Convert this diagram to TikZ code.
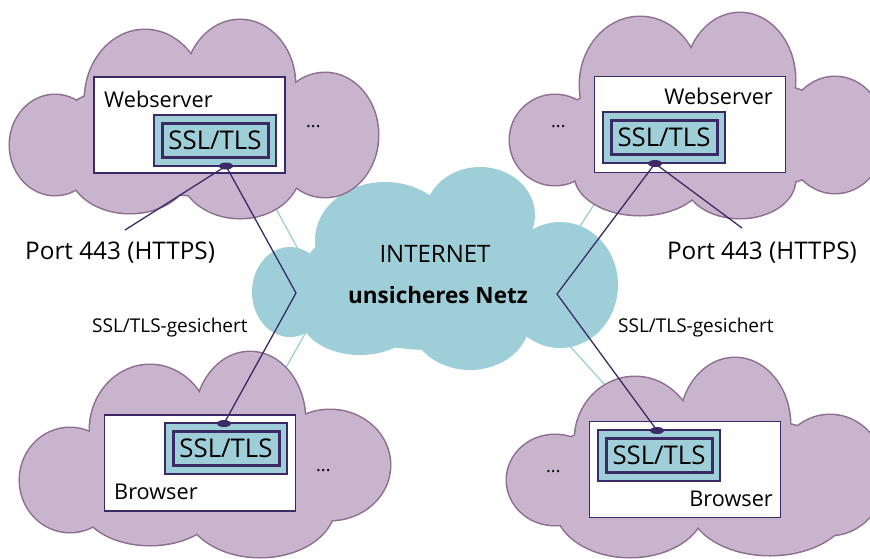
\documentclass[tikz,border=0pt]{standalone}
\usepackage{fontspec}
\setmainfont{Open Sans}
\usetikzlibrary{shapes.geometric}
\definecolor{cloudfill}{HTML}{C9B4CD}
\definecolor{cloudedge}{HTML}{8C6E8E}
\definecolor{netfill}{HTML}{9ECFD8}
\definecolor{darklink}{HTML}{3B2A66}
\newcommand\drawmycloud[2]{%
  \foreach \cx/\cy/\rx/\ry in {#1}{\draw[draw=cloudedge,line width=3pt] (\cx,\cy) ellipse [x radius=\rx pt, y radius=\ry pt];}%
  \foreach \cx/\cy/\rx/\ry in {#1}{\fill[#2] (\cx,\cy) ellipse [x radius=\rx pt, y radius=\ry pt];}%
}
\newcommand\fillmycloud[2]{%
  \foreach \cx/\cy/\rx/\ry in {#1}{\fill[#2] (\cx,\cy) ellipse [x radius=\rx pt, y radius=\ry pt];}%
}
\tikzset{
  wbox/.style={draw=darklink, line width=1.4pt, fill=white, minimum width=191pt, minimum height=96pt, inner sep=0pt},
  sslout/.style={draw=darklink, line width=2.4pt, fill=netfill, minimum width=122pt, minimum height=51pt, inner sep=0pt},
  sslin/.style={draw=darklink, line width=3pt, fill=netfill, minimum width=106pt, minimum height=34pt, inner sep=0pt, font=\fontsize{25.8}{30}\selectfont},
  dotn/.style={ellipse, fill=darklink, minimum width=14pt, minimum height=7pt, inner sep=0pt},
  boxlbl/.style={inner sep=0pt, font=\fontsize{21.7}{26}\selectfont},
  portlbl/.style={inner sep=0pt, font=\fontsize{24.3}{28}\selectfont},
  seclbl/.style={inner sep=0pt, font=\fontsize{19}{23}\selectfont},
  dotslbl/.style={inner sep=0pt, font=\fontsize{18}{22}\selectfont},
  link/.style={draw=darklink, line width=1.3pt},
  netlink/.style={draw=netfill, line width=1.3pt},
}
\begin{document}
\begin{tikzpicture}[x=1pt,y=-1pt]
\useasboundingbox (0,0) rectangle (870,558);
\clip (0,0) rectangle (870,558);
\fill[white] (0,0) rectangle (870,558);
% thin cyan links between clouds (behind)
\coordinate (nTLa) at (262,183); \coordinate (nTLb) at (305,262);
\coordinate (nTRa) at (602,192); \coordinate (nTRb) at (565,250);
\coordinate (nBLa) at (306,332); \coordinate (nBLb) at (280,378);
\coordinate (nBRa) at (558,333); \coordinate (nBRb) at (615,396);
\draw[netlink] (nTLa) -- (nTLb);
\draw[netlink] (nTRa) -- (nTRb);
\draw[netlink] (nBLa) -- (nBLb);
\draw[netlink] (nBRa) -- (nBRb);
% internet cloud
\fillmycloud{290/292/38/45, 385/240/70/58, 480/215/55/48, 560/285/58/63, 470/320/60/50, 360/315/60/40, 430/280/130/70}{netfill}
% purple clouds
\drawmycloud{55/145/45/50, 145/100/60/70, 240/85/55/65, 325/135/53/62, 130/170/60/43, 240/170/60/48, 200/135/150/60}{cloudfill}
\drawmycloud{555/140/45/45, 640/85/60/68, 740/80/55/67, 835/135/50/58, 640/175/65/40, 740/180/55/38, 700/135/150/60}{cloudfill}
\drawmycloud{70/480/50/52, 150/430/60/65, 250/420/55/68, 330/465/60/55, 150/500/70/45, 260/505/75/52, 205/470/160/55}{cloudfill}
\drawmycloud{555/480/48/45, 635/440/60/63, 735/425/55/67, 830/475/55/60, 630/505/75/52, 770/505/80/50, 700/470/160/55}{cloudfill}
% white boxes
\node[wbox] (wTL) at (189.5,125) {};
\node[wbox] (wTR) at (690,124.5) {};
\node[wbox] (wBL) at (200,463) {};
\node[wbox] (wBR) at (685,469.5) {};
% SSL boxes
\node[sslout] (oTL) at (215,140.5) {};
\node[sslout] (oTR) at (664,137.5) {};
\node[sslout] (oBL) at (226,448.5) {};
\node[sslout] (oBR) at (659,455.5) {};
\node[sslin] (iTL) at (215,140.5) {SSL/TLS};
\node[sslin] (iTR) at (664,137.5) {SSL/TLS};
\node[sslin] (iBL) at (226,448.5) {SSL/TLS};
\node[sslin] (iBR) at (659,455.5) {SSL/TLS};
% box labels
\node[boxlbl, anchor=base west] (lWS1) at (104,107) {Webserver};
\node[boxlbl, anchor=base east] (lWS2) at (773,104) {Webserver};
\node[boxlbl, anchor=base west] (lBR1) at (114,499) {Browser};
\node[boxlbl, anchor=base east] (lBR2) at (773,506) {Browser};
\node[dotslbl, anchor=base west] (e1) at (306,127) {...};
\node[dotslbl, anchor=base west] (e2) at (551,127) {...};
\node[dotslbl, anchor=base west] (e3) at (316,471) {...};
\node[dotslbl, anchor=base west] (e4) at (546,472) {...};
% internet labels
\node[inner sep=0pt, anchor=base, font=\fontsize{24}{28}\selectfont] (inet) at (435,262) {INTERNET};
\node[inner sep=0pt, anchor=base, font=\fontsize{22.5}{27}\selectfont\bfseries] (unsafe) at (438,303) {unsicheres Netz};
% port labels
\node[portlbl, anchor=base west] (pTL) at (25,259) {Port 443 (HTTPS)};
\node[portlbl, anchor=base east] (pTR) at (857,259) {Port 443 (HTTPS)};
\coordinate (pTLend) at (125,230);
\coordinate (pTRend) at (742,228);
% secured labels
\node[seclbl, anchor=base west] (sL) at (92,332) {SSL/TLS-gesichert};
\node[seclbl, anchor=base west] (sR) at (618,332) {SSL/TLS-gesichert};
% kinks
\coordinate (kL) at (296,293);
\coordinate (kR) at (557,294);
% dots
\node[dotn] (dTL) at (226,166) {};
\node[dotn] (dTR) at (655,163.5) {};
\node[dotn] (dBL) at (224,423.5) {};
\node[dotn] (dBR) at (657,430.5) {};
% links
\draw[link] (dTL.center) -- (kL) -- (dBL.center);
\draw[link] (dTR.center) -- (kR) -- (dBR.center);
\draw[link] (dTL.center) -- (pTLend);
\draw[link] (dTR.center) -- (pTRend);
\end{tikzpicture}
\end{document}
